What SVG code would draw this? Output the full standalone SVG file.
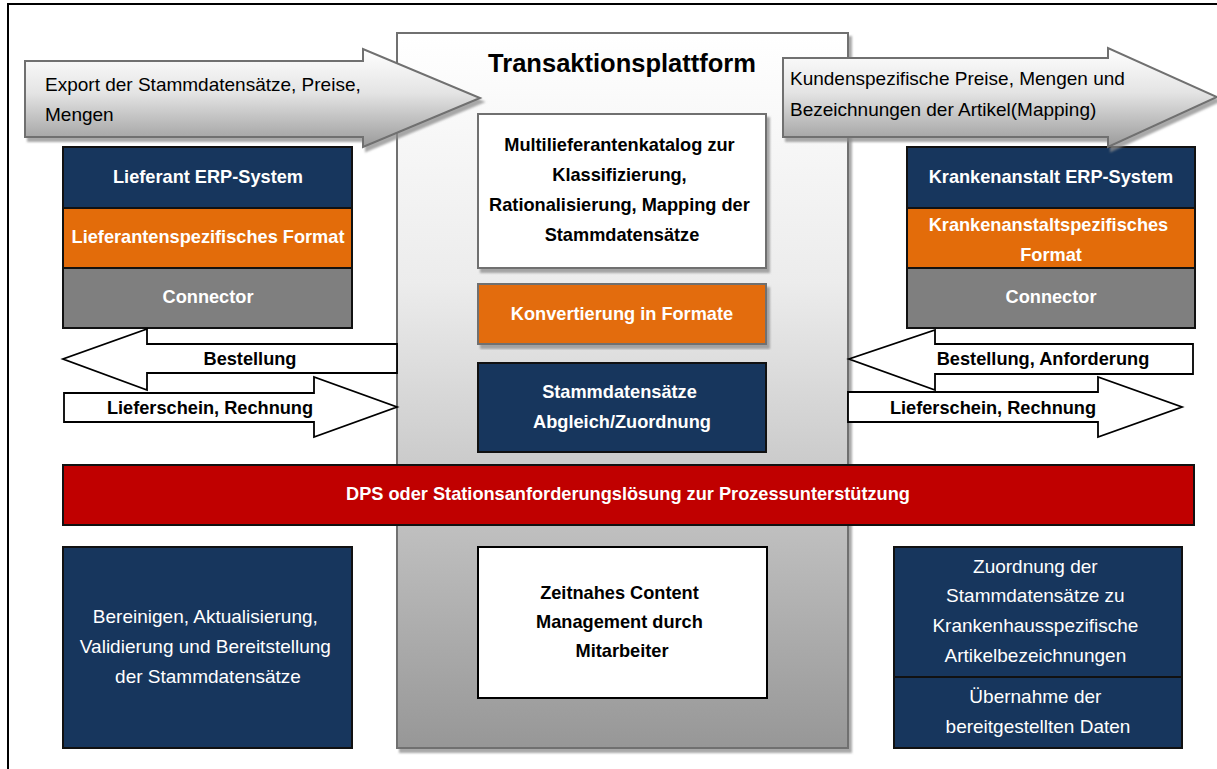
<svg xmlns="http://www.w3.org/2000/svg" width="1217" height="769" viewBox="0 0 1217 769">
  <defs>
    <linearGradient id="gPlatform" x1="0" y1="0" x2="0" y2="1">
      <stop offset="0" stop-color="#ffffff"/>
      <stop offset="0.35" stop-color="#ececec"/>
      <stop offset="1" stop-color="#979797"/>
    </linearGradient>
    <linearGradient id="gArrow" x1="0" y1="0" x2="0" y2="1">
      <stop offset="0" stop-color="#ffffff"/>
      <stop offset="0.45" stop-color="#e4e4e4"/>
      <stop offset="1" stop-color="#9a9a9a"/>
    </linearGradient>
    <filter id="shadow" x="-5%" y="-5%" width="115%" height="115%">
      <feGaussianBlur in="SourceAlpha" stdDeviation="0.8"/>
      <feOffset dx="3" dy="4" result="off"/>
      <feFlood flood-color="#8c8c8c" flood-opacity="0.75"/>
      <feComposite in2="off" operator="in"/>
      <feMerge>
        <feMergeNode/>
        <feMergeNode in="SourceGraphic"/>
      </feMerge>
    </filter>
  </defs>
  <style>
    text { font-family: "Liberation Sans", Arial, sans-serif; font-size: 19px; }
    .b { font-weight: bold; font-size: 18.2px; }
    .w { fill: #ffffff; }
    .k { fill: #000000; }
    .c { text-anchor: middle; }
    .navy { fill: #17365d; stroke: #111; stroke-width: 2; }
    .orange { fill: #e36c0a; stroke: #111; stroke-width: 2; }
    .grey { fill: #7f7f7f; stroke: #111; stroke-width: 2; }
    .flow { fill: #ffffff; stroke: #000; stroke-width: 1.8; stroke-linejoin: miter; }
    .big { fill: url(#gArrow); stroke: #6f6f6f; stroke-width: 2; filter: url(#shadow); }
  </style>

  <!-- page frame -->
  <rect x="8" y="4" width="1230" height="790" fill="#ffffff" stroke="#000" stroke-width="2"/>

  <!-- central platform -->
  <g id="platform">
    <rect x="397" y="33" width="451" height="715" fill="url(#gPlatform)" stroke="#6f6f6f" stroke-width="2" filter="url(#shadow)"/>
    <text x="622" y="72" class="b c k" style="font-size:25.5px">Transaktionsplattform</text>
  </g>

  <g id="katalog">
    <rect x="478" y="114" width="288" height="154" fill="#ffffff" stroke="#6f6f6f" stroke-width="2" filter="url(#shadow)"/>
    <text class="b c k">
      <tspan x="622" y="151">Multilieferantenkatalog zur</tspan>
      <tspan x="622" y="181">Klassifizierung,</tspan>
      <tspan x="622" y="211">Rationalisierung, Mapping der</tspan>
      <tspan x="622" y="241">Stammdatensätze</tspan>
    </text>
  </g>

  <g id="konvertierung">
    <rect x="478" y="284" width="288" height="60" fill="#e36c0a" stroke="#6f6f6f" stroke-width="2" filter="url(#shadow)"/>
    <text x="622" y="320" class="b c w">Konvertierung in Formate</text>
  </g>

  <g id="abgleich">
    <rect x="478" y="363" width="288" height="89" class="navy"/>
    <text class="b c w">
      <tspan x="622" y="398">Stammdatensätze</tspan>
      <tspan x="622" y="428">Abgleich/Zuordnung</tspan>
    </text>
  </g>

  <g id="content">
    <rect x="478" y="547" width="289" height="151" fill="#ffffff" stroke="#000" stroke-width="2"/>
    <text class="b c k">
      <tspan x="622" y="599">Zeitnahes Content</tspan>
      <tspan x="622" y="628">Management durch</tspan>
      <tspan x="622" y="657">Mitarbeiter</tspan>
    </text>
  </g>

  <!-- supplier side -->
  <g id="lieferant">
    <rect x="63" y="147" width="289" height="61" class="navy"/>
    <rect x="63" y="208" width="289" height="60" class="orange"/>
    <rect x="63" y="268" width="289" height="60" class="grey"/>
    <text x="208" y="183" class="b c w">Lieferant ERP-System</text>
    <text x="208" y="243" class="b c w">Lieferantenspezifisches Format</text>
    <text x="208" y="303" class="b c w">Connector</text>
  </g>

  <!-- hospital side -->
  <g id="krankenanstalt">
    <rect x="907" y="147" width="288" height="61" class="navy"/>
    <rect x="907" y="208" width="288" height="60" class="orange"/>
    <rect x="907" y="268" width="288" height="60" class="grey"/>
    <text x="1051" y="183" class="b c w">Krankenanstalt ERP-System</text>
    <text class="b c w">
      <tspan x="1051" y="231">Krankenanstaltspezifisches</tspan>
      <tspan x="1051" y="261">Format</tspan>
    </text>
    <text x="1051" y="303" class="b c w">Connector</text>
  </g>

  <!-- process support bar -->
  <g id="dps">
    <rect x="63" y="465" width="1131" height="60" fill="#c00000" stroke="#111" stroke-width="2"/>
    <text x="628" y="500" class="b c w">DPS oder Stationsanforderungslösung zur Prozessunterstützung</text>
  </g>

  <g id="bereinigen">
    <rect x="63" y="547" width="289" height="201" class="navy"/>
    <text class="c w">
      <tspan x="208" y="623">Bereinigen, Aktualisierung,</tspan>
      <tspan x="208" y="653">Validierung und Bereitstellung</tspan>
      <tspan x="208" y="683">der Stammdatensätze</tspan>
    </text>
  </g>

  <g id="zuordnung">
    <rect x="894" y="547" width="288" height="130" class="navy"/>
    <rect x="894" y="677" width="288" height="71" class="navy"/>
    <text class="c w">
      <tspan x="1038" y="573">Zuordnung der</tspan>
      <tspan x="1038" y="602">Stammdatensätze zu</tspan>
      <tspan x="1038" y="632">Krankenhausspezifische</tspan>
      <tspan x="1038" y="662">Artikelbezeichnungen</tspan>
      <tspan x="1038" y="703">Übernahme der</tspan>
      <tspan x="1038" y="733">bereitgestellten Daten</tspan>
    </text>
  </g>

  <!-- connectors: block arrows -->
  <g id="connectors">
    <g id="export">
      <polygon class="big" points="25,61 363,61 363,49 480,98 363,147 363,137 25,137"/>
      <text class="k">
        <tspan x="45" y="91">Export der Stammdatensätze, Preise,</tspan>
        <tspan x="45" y="121">Mengen</tspan>
      </text>
    </g>
    <g id="mapping">
      <polygon class="big" points="783,58 1108,58 1108,48 1217,97 1108,147 1108,137 783,137"/>
      <text class="k">
        <tspan x="790" y="85">Kundenspezifische Preise, Mengen und</tspan>
        <tspan x="790" y="116">Bezeichnungen der Artikel(Mapping)</tspan>
      </text>
    </g>
    <g id="bestellung-l">
      <polygon class="flow" points="397,344 147,344 147,329 63,359 147,390 147,373 397,373"/>
      <text x="250" y="365" class="b c k">Bestellung</text>
    </g>
    <g id="lieferschein-l">
      <polygon class="flow" points="64,393 314,393 314,377 397,407 314,437 314,422 64,422"/>
      <text x="210" y="414" class="b c k">Lieferschein, Rechnung</text>
    </g>
    <g id="bestellung-r">
      <polygon class="flow" points="1193,344 935,344 935,330 849,359 935,390 935,374 1193,374"/>
      <text x="1043" y="365" class="b c k">Bestellung, Anforderung</text>
    </g>
    <g id="lieferschein-r">
      <polygon class="flow" points="848,392 1098,392 1098,377 1182,407 1098,437 1098,422 848,422"/>
      <text x="993" y="414" class="b c k">Lieferschein, Rechnung</text>
    </g>
  </g>
</svg>
